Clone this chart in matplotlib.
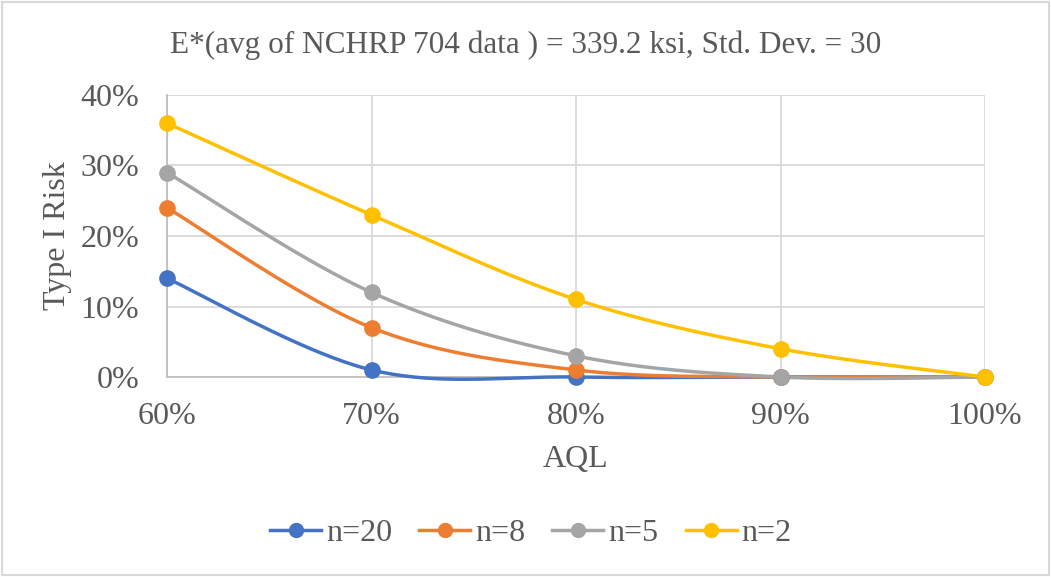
import numpy as np
import matplotlib
matplotlib.use('Agg')
import matplotlib.pyplot as plt
from matplotlib.ticker import PercentFormatter


# AQL levels and Type I risk for each sample size (in percent)
aql = [60, 70, 80, 90, 100]
risk_n20 = [14, 1, 0, 0, 0]
risk_n8 = [24, 7, 1, 0, 0]
risk_n5 = [29, 12, 3, 0, 0]
risk_n2 = [36, 23, 11, 4, 0]

series_labels = ["n=20", "n=8", "n=5", "n=2"]
series_colors = ["#4472C4", "#ED7D31", "#A5A5A5", "#FFC000"]
title = "E*(avg of NCHRP 704 data ) = 339.2 ksi, Std. Dev. = 30"


# Excel-style smoothed line: Catmull-Rom spline through the points
def smooth_curve(xs, ys, steps=40):
	pts = np.column_stack([xs, ys]).astype(float)
	pts = np.vstack([pts[0], pts, pts[-1]])
	out = []
	t = np.linspace(0, 1, steps)
	for i in range(1, len(pts) - 2):
		p0, p1, p2, p3 = pts[i - 1], pts[i], pts[i + 1], pts[i + 2]
		c1 = p1 + (p2 - p0) / 6
		c2 = p2 - (p3 - p1) / 6
		seg = ((1 - t) ** 3)[:, None] * p1 + (3 * (1 - t) ** 2 * t)[:, None] * c1 \
			+ (3 * (1 - t) * t ** 2)[:, None] * c2 + (t ** 3)[:, None] * p2
		out.append(seg if i == 1 else seg[1:])
	curve = np.vstack(out)
	return curve[:, 0], curve[:, 1]


plt.rcParams['font.family'] = ['Liberation Serif', 'DejaVu Serif']
text_color = "#595959"

fig = plt.figure(figsize=(10.51, 5.77), dpi=100)
ax = fig.add_axes([167 / 1051, 1 - 377 / 577, (985 - 167) / 1051, (377 - 95) / 577])

for ys, label, color in zip([risk_n20, risk_n8, risk_n5, risk_n2], series_labels, series_colors):
	sx, sy = smooth_curve(aql, ys)
	ax.plot(sx, sy, color=color, lw=2.5, solid_capstyle='round', zorder=3, clip_on=False)
	ax.plot(aql, ys, 'o', color=color, ms=11, zorder=4, clip_on=False)
	ax.plot([], [], '-o', color=color, lw=2.5, ms=10, label=label)

ax.set_xlim(60, 100)
ax.set_ylim(0, 40)
ax.set_xticks(aql)
ax.set_yticks([0, 10, 20, 30, 40])
ax.xaxis.set_major_formatter(PercentFormatter(decimals=0))
ax.yaxis.set_major_formatter(PercentFormatter(decimals=0))
ax.grid(True, color="#D9D9D9", lw=1.3)
ax.set_axisbelow(True)
for side in ['top', 'right']:
	ax.spines[side].set_visible(False)
for side in ['left', 'bottom']:
	ax.spines[side].set_color("#BFBFBF")
	ax.spines[side].set_linewidth(1.3)
ax.tick_params(length=0, labelsize=23, colors=text_color)
ax.tick_params(axis='y', pad=20)
ax.tick_params(axis='x', pad=18)

ax.set_xlabel("AQL", fontsize=23, color=text_color, labelpad=10)
ax.set_ylabel("Type I Risk", fontsize=23, color=text_color, labelpad=6)
fig.text(0.5, 1 - 45 / 577, title, ha='center', va='center', fontsize=22.5, color=text_color)

fig.legend(loc='center', bbox_to_anchor=(0.505, 1 - 533 / 577), ncol=4, frameon=False,
	fontsize=23, labelcolor=text_color, handlelength=1.6, handletextpad=0.15, columnspacing=0.85)

# outer chart border
fig.patches.append(plt.Rectangle((0.002, 0.003), 0.996, 0.994, transform=fig.transFigure,
	fill=False, edgecolor="#D9D9D9", lw=1.5))

fig.savefig("out.png", dpi=100)
